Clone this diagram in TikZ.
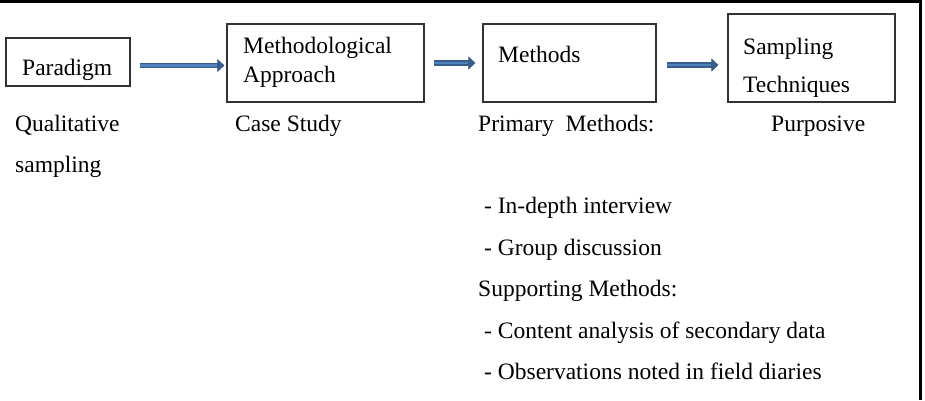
\documentclass[tikz,border=0pt]{standalone}
\usepackage{fontspec}
\setmainfont{Liberation Serif}
\usetikzlibrary{arrows.meta,calc}
\definecolor{arrowdark}{RGB}{56,93,138}
\definecolor{arrowfill}{RGB}{79,129,189}
\begin{document}
\begin{tikzpicture}[x=1pt,y=-1pt,font=\fontsize{23.5}{28}\selectfont,
  box/.style={draw=black!80,line width=1.2pt,inner sep=0pt},
  lbl/.style={anchor=base west,inner sep=0pt},
  flow/.style={draw=arrowdark,line width=5.5pt,
    -{Triangle[length=7pt,width=13pt,line width=0.4pt]},
    postaction={draw=arrowfill,line width=2.8pt,shorten >=7pt,-}}]
  \useasboundingbox (0,0) rectangle (925,400);
  % Cadre (haut et droite)
  \draw[line width=2.5pt] (0,1.5) -- (920.5,1.5) -- (920.5,400);

  % Boites
  \node[box,minimum width=124pt,minimum height=48pt] (paradigm) at (68,62) {};
  \node[box,minimum width=197pt,minimum height=78pt] (approach) at (325.5,63) {};
  \node[box,minimum width=173pt,minimum height=78pt] (methods) at (569.5,63) {};
  \node[box,minimum width=167pt,minimum height=88pt] (sampling) at (811.5,58) {};

  % Textes des boites
  \node[lbl] (paradigmtxt) at (22,75) {Paradigm};
  \node[lbl] (approachtxt) at (243,53) {Methodological};
  \node[lbl] (approachtxtb) at (243,82) {Approach};
  \node[lbl] (methodstxt) at (498,62) {Methods};
  \node[lbl] (samplingtxt) at (743,54) {Sampling};
  \node[lbl] (samplingtxtb) at (743,92) {Techniques};

  % Fleches
  \draw[flow] ($(paradigm.east)+(9,3.5)$) -- ($(approach.west |- paradigm.east)+(-2,3.5)$);
  \draw[flow] ($(approach.east)+(9,0)$) -- ($(methods.west)+(-7,0)$);
  \draw[flow] ($(methods.east)+(10,2)$) -- ($(sampling.west |- methods.east)+(-9,2)$);

  % Textes sous les boites
  \node[lbl] (qual) at (15,131) {Qualitative};
  \node[lbl] (qualb) at (15,172) {sampling};
  \node[lbl] (case) at (235,131) {Case Study};
  \node[lbl] (primary) at (478,131) {Primary\ \ Methods:};
  \node[lbl] (purposive) at (771,131) {Purposive};
  \node[lbl] (indepth) at (484,213) {- In-depth interview};
  \node[lbl] (group) at (484,255) {- Group discussion};
  \node[lbl] (support) at (478,296) {Supporting Methods:};
  \node[lbl] (content) at (484,338) {- Content analysis of secondary data};
  \node[lbl] (observ) at (484,379) {- Observations noted in field diaries};
\end{tikzpicture}
\end{document}
